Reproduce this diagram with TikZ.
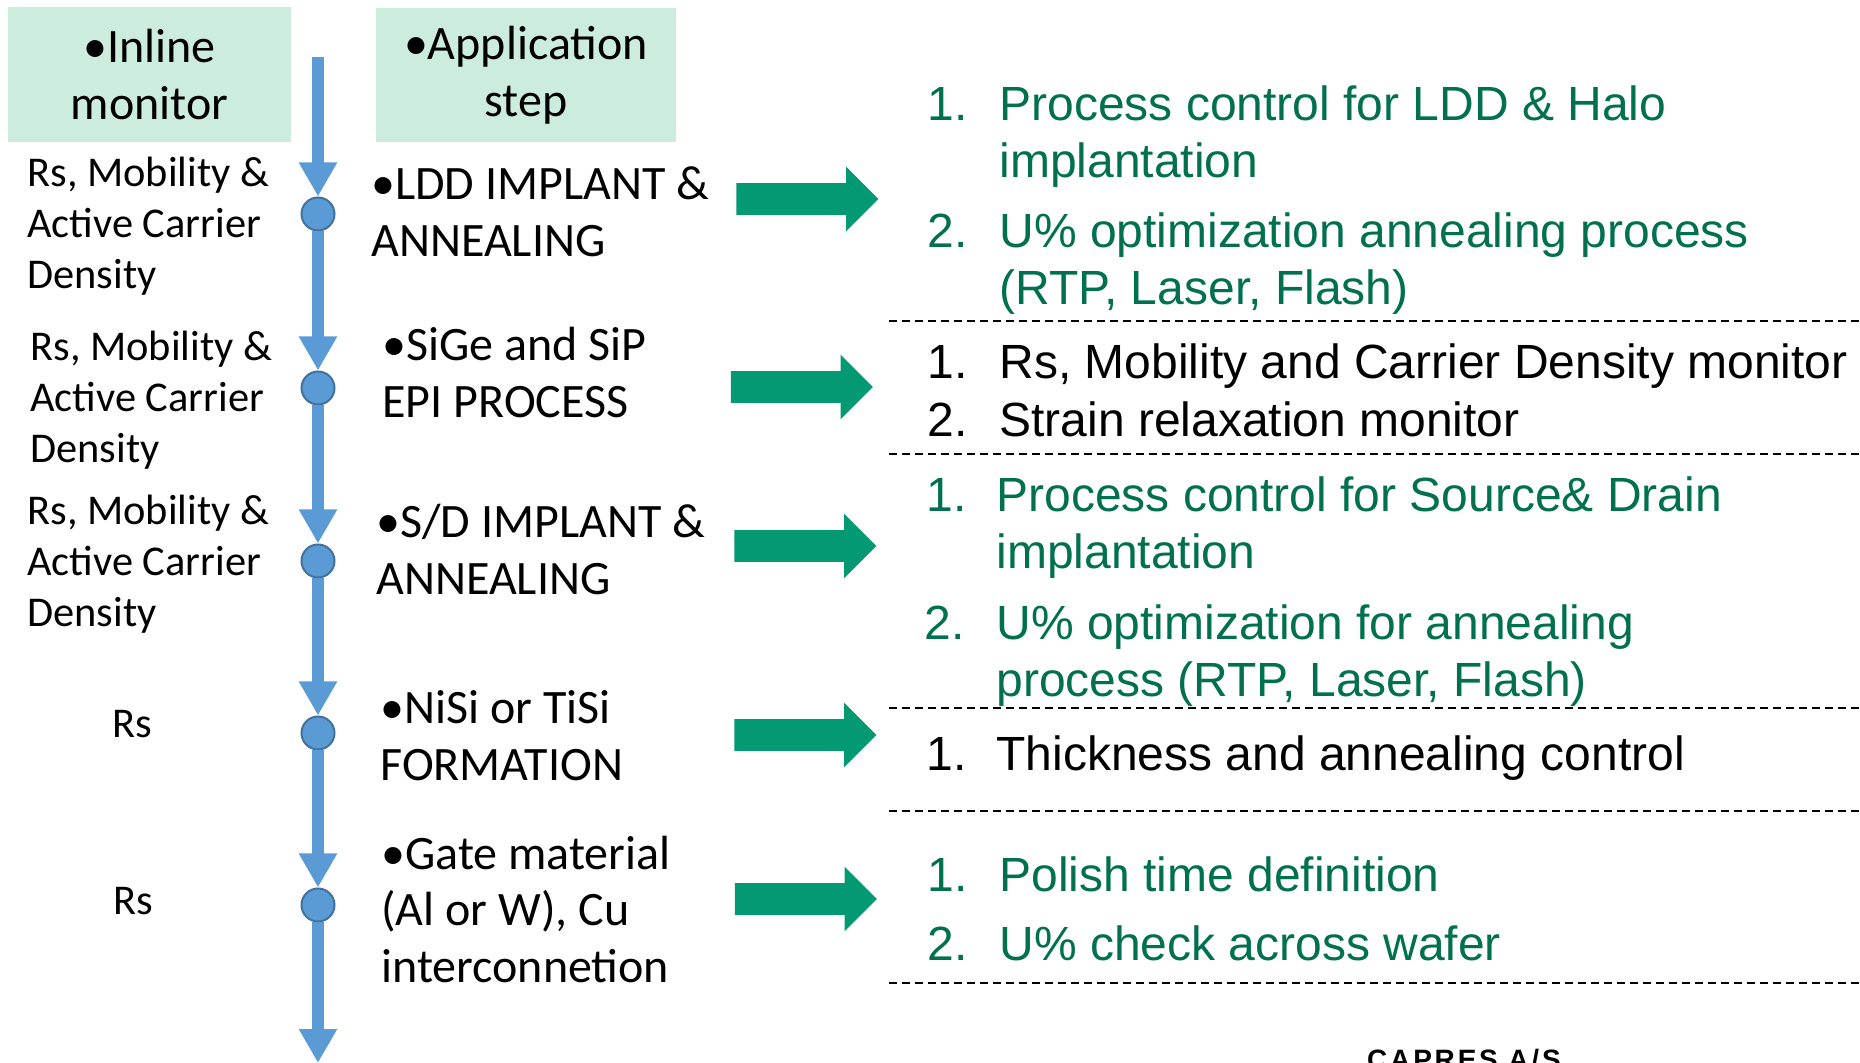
\documentclass[tikz,border=0pt]{standalone}
\usepackage{fontspec}
\setmainfont{Carlito}
\newfontfamily\arialfont{Liberation Sans}
\newfontfamily\logofont[LetterSpace=10]{Liberation Sans}
\usetikzlibrary{arrows.meta,shapes.arrows}
\definecolor{myblue}{RGB}{91,155,213}
\definecolor{myblueii}{RGB}{65,113,156}
\definecolor{mymint}{RGB}{204,236,222}
\definecolor{mygreen}{RGB}{3,153,115}
\definecolor{mygreenii}{RGB}{0,112,78}

\begin{document}
\begin{tikzpicture}[x=0.5pt,y=-0.5pt,
hdrb/.style={
  fill=mymint,
  inner sep=0pt,
  align=center,
  font=\fontsize{24}{28.5}\selectfont},
monit/.style={anchor=base west,align=left,inner sep=0pt,
  font=\fontsize{21.2}{25.5}\selectfont},
stepb/.style={monit,font=\fontsize{24}{28.5}\selectfont},
resk/.style={monit,font=\arialfont\fontsize{24}{28.5}\selectfont},
resg/.style={resk,text=mygreenii},
dot/.style={circle,draw=myblueii,line width=1pt,fill=myblue,
  minimum size=16.5pt,inner sep=0pt},
flow/.style={draw=myblue,line width=6pt,-{Triangle[width=18pt,length=17pt]}},
garrow/.style={single arrow,fill=mygreen,inner xsep=0pt,inner ysep=7.75pt,
  minimum width=32pt,minimum height=71pt,single arrow head extend=8.25pt},
sepline/.style={dash pattern=on 4pt off 2.5pt,line width=0.8pt},
]
\useasboundingbox (0,0) rectangle (1860,1063);

% headers (multi-line nodes sit on the baseline of their last line)
\node[hdrb,minimum width=141.5pt,minimum height=67.5pt] (Inl) at (149.5,75) {•Inline\\monitor};
\node[hdrb,minimum width=150pt,minimum height=67pt] (App) at (526,75) {•Application\\step};

% process line
\node[dot] (c1) at (318,214) {};
\node[dot] (c2) at (318,388) {};
\node[dot] (c3) at (318,561) {};
\node[dot] (c4) at (318,733) {};
\node[dot] (c5) at (318,905) {};
\coordinate (top) at (318,57);
\coordinate (bot) at (318,1063);
\draw[flow] (top) -- (c1);
\draw[flow] (c1) -- (c2);
\draw[flow] (c2) -- (c3);
\draw[flow] (c3) -- (c4);
\draw[flow] (c4) -- (c5);
\draw[flow] (c5) -- (bot);

% inline monitor
\node[monit] (Mon1) at (27,289) {Rs, Mobility \&\\Active Carrier\\Density};
\node[monit] (Mon2) at (30,463) {Rs, Mobility \&\\Active Carrier\\Density};
\node[monit] (Mon3) at (27,627) {Rs, Mobility \&\\Active Carrier\\Density};
\node[monit,anchor=base] (Mon4) at (132,738) {Rs};
\node[monit,anchor=base] (Mon5) at (133,914) {Rs};

% application steps
\node[stepb] (LDD) at (371,257) {•LDD IMPLANT \&\\ANNEALING};
\node[stepb] (Epi) at (382,418) {•SiGe and SiP\\EPI PROCESS};
\node[stepb] (SD) at (376,595) {•S/D IMPLANT \&\\ANNEALING};
\node[stepb] (Sil) at (380,781) {•NiSi or TiSi\\FORMATION};
\node[stepb] (Gat) at (381,983) {•Gate material\\(Al or W), Cu\\interconnetion};

% block arrows
\node[garrow] (ga1) at (799.5,199) {};
\node[garrow] (ga2) at (794,387) {};
\node[garrow] (ga3) at (797.5,546) {};
\node[garrow] (ga4) at (797.5,735) {};
\node[garrow] (ga5) at (798,899) {};

% results
\node[resg] (n11) at (927,121) {1.};
\node[resg] (t11) at (999,178) {Process control for LDD \& Halo\\implantation};
\node[resg] (n12) at (927,248) {2.};
\node[resg] (t12) at (999,305) {U\% optimization annealing process\\(RTP, Laser, Flash)};
\node[resk] (n21) at (927,379) {1.};
\node[resk] (t21) at (999,379) {Rs, Mobility and Carrier Density monitor};
\node[resk] (n22) at (927,437) {2.};
\node[resk] (t22) at (999,437) {Strain relaxation monitor};
\node[resg] (n31) at (926,512) {1.};
\node[resg] (t31) at (996,569) {Process control for Source\& Drain\\implantation};
\node[resg] (n32) at (924,640) {2.};
\node[resg] (t32) at (996,697) {U\% optimization for annealing\\process (RTP, Laser, Flash)};
\node[resk] (n41) at (926,771) {1.};
\node[resk] (t41) at (996,771) {Thickness and annealing control};
\node[resg] (n51) at (927,892) {1.};
\node[resg] (t51) at (999,892) {Polish time definition};
\node[resg] (n52) at (927,961) {2.};
\node[resg] (t52) at (999,961) {U\% check across wafer};

% separators
\draw[sepline] (889,321) -- (1860,321);
\draw[sepline] (889,454) -- (1860,454);
\draw[sepline] (889,708) -- (1860,708);
\draw[sepline] (889,811) -- (1860,811);
\draw[sepline] (889,983) -- (1860,983);

\node[anchor=base,inner sep=0pt,font=\logofont\bfseries\fontsize{14}{16}\selectfont] (logo) at (1464,1069) {CAPRES A/S};
\end{tikzpicture}
\end{document}
